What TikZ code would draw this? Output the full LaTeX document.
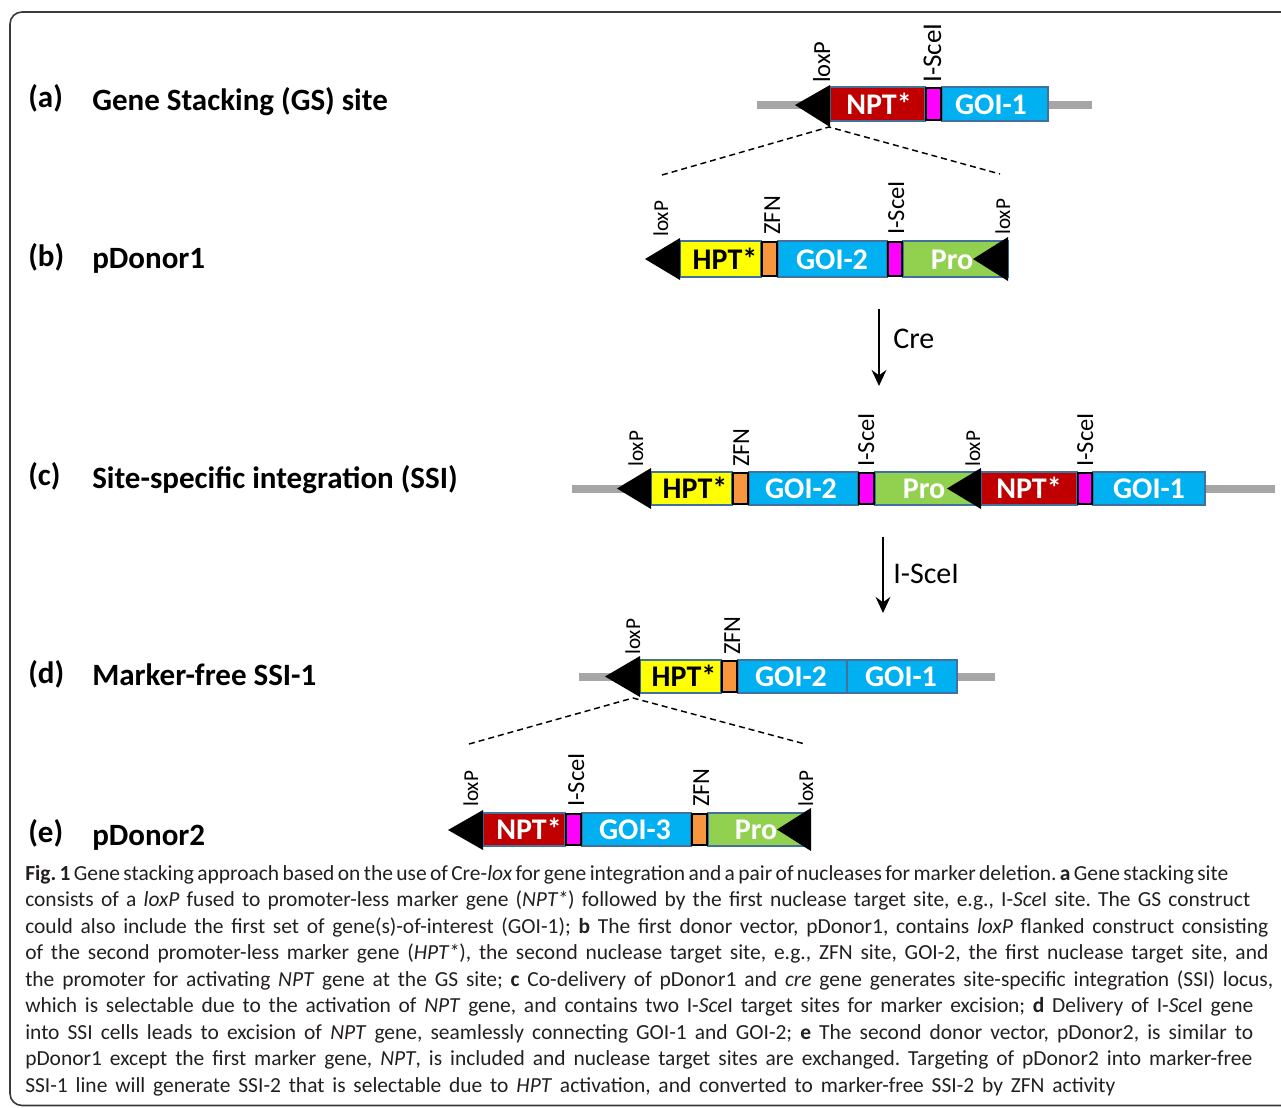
\documentclass[tikz,border=0pt]{standalone}
\usepackage{fontspec}
\setmainfont{Carlito}
\usetikzlibrary{arrows.meta}
\frenchspacing
\definecolor{nptred}{HTML}{C00000}
\definecolor{hptyel}{HTML}{FFFF00}
\definecolor{goiblue}{HTML}{00B0F0}
\definecolor{progreen}{HTML}{92D050}
\definecolor{zfnorange}{HTML}{F7963C}
\definecolor{sceimag}{HTML}{FF00FF}
\definecolor{barline}{HTML}{41719C}
\definecolor{dnagray}{HTML}{A6A6A6}
\definecolor{capgray}{HTML}{231F20}
\definecolor{framegray}{HTML}{3A3A3A}
\begin{document}
\begin{tikzpicture}[x=0.75pt,y=-0.75pt,
  seg/.style={draw=barline, line width=1.5pt},
  sitebox/.style={draw=black, line width=2.2pt},
  gene/.style={font=\fontsize{22.5}{22.5}\selectfont\bfseries, text=white, inner sep=0, anchor=base},
  genedark/.style={gene, text=black},
  lbl/.style={rotate=90, anchor=base west, inner sep=0, font=\fontsize{18.4}{18.4}\selectfont},
  lblbig/.style={lbl, font=\fontsize{20.3}{20.3}\selectfont},
  lblsm/.style={lbl, font=\fontsize{15.9}{15.9}\selectfont},
  loxtri/.style={fill=black},
  dna/.style={draw=dnagray, line width=6pt},
  dashln/.style={dash pattern=on 4.5pt off 3pt, line width=1.1pt},
  flow/.style={line width=2pt, -{Stealth[length=12pt,width=11pt,inset=4pt]}},
  flowlbl/.style={font=\fontsize{22.5}{22.5}\selectfont, anchor=base west, inner sep=0},
  paneltag/.style={font=\fontsize{23.25}{23.25}\selectfont\bfseries, anchor=base west, inner sep=0},
  captext/.style={font=\fontsize{16.1}{16.1}\selectfont, anchor=base west, inner sep=0, text=capgray}
]
\useasboundingbox (0,0) rectangle (1281,1107);
% frame
\draw[line width=1.2pt, draw=framegray, rounded corners=9pt] (1300,1105.5) -- (10,1105.5) -- (10,12) -- (1300,12);

% ---------------- panel labels ----------------
\node[paneltag] (ta) at (28,107) {(a)};
\node[paneltag] (na) at (92,110) {Gene Stacking (GS) site};
\node[paneltag] (tb) at (28,266) {(b)};
\node[paneltag] (nb) at (92,268) {pDonor1};
\node[paneltag] (tc) at (28,485) {(c)};
\node[paneltag] (nc) at (92,488) {Site-specific integration (SSI)};
\node[paneltag] (td) at (28,683) {(d)};
\node[paneltag] (nd) at (92,685) {Marker-free SSI-1};
\node[paneltag] (te) at (28,842) {(e)};
\node[paneltag] (ne) at (92,845) {pDonor2};

% ---------------- (a) ----------------
\draw[dna] (757,105) -- (1092,105);
\filldraw[seg, fill=nptred] (830,87) rectangle (925,121);
\filldraw[seg, fill=goiblue] (942,87) rectangle (1048,121);
\filldraw[sitebox, fill=sceimag] (926,88) rectangle (941,120);
\node[gene] (a-npt) at (879,114) {NPT*};
\node[gene] (a-goi1) at (991,114) {GOI-1};
\fill[loxtri] (795,105) -- (830,85) -- (830,127) -- cycle;
\coordinate (a-lox) at (829,127);
\node[lbl] (a-loxl) at (830,83) {loxP};
\node[lblbig] (a-scel) at (941,83) {I-SceI};

% dashed zoom lines (a)->(b)
\coordinate (b-left) at (662,175);
\coordinate (b-right) at (1000,174);
\draw[dashln] (b-left) -- (a-lox) -- (b-right);

% ---------------- (b) ----------------
\filldraw[seg, fill=hptyel] (680,241) rectangle (761,277);
\filldraw[seg, fill=goiblue] (778,241) rectangle (887,277);
\filldraw[seg, fill=progreen] (903,241) rectangle (1008,277);
\filldraw[sitebox, fill=zfnorange] (762,242) rectangle (777,276);
\filldraw[sitebox, fill=sceimag] (888,242) rectangle (902,276);
\node[genedark] (b-hpt) at (725,269) {HPT*};
\node[gene] (b-goi2) at (832,269) {GOI-2};
\node[gene] (b-pro) at (952,269) {Pro};
\fill[loxtri] (645,259) -- (680,238) -- (680,280) -- cycle;
\fill[loxtri] (973,259) -- (1008,237) -- (1008,281) -- cycle;
\node[lblsm] (b-lox1) at (668,237) {loxP};
\node[lbl] (b-zfn) at (780,235) {ZFN};
\node[lbl] (b-scel) at (904,235) {I-SceI};
\node[lblsm] (b-lox2) at (1010,235) {loxP};

% Cre arrow
\coordinate (cre-s) at (879,309);
\coordinate (cre-e) at (879,386);
\draw[flow] (cre-s) -- (cre-e);
\node[flowlbl] (cre) at (893,348) {Cre};

% ---------------- (c) ----------------
\draw[dna] (572,488.5) -- (1275,488.5);
\filldraw[seg, fill=hptyel] (651,472) rectangle (732,505);
\filldraw[seg, fill=goiblue] (749,472) rectangle (858,505);
\filldraw[seg, fill=progreen] (875,472) rectangle (981,505);
\filldraw[seg, fill=nptred] (981,472) rectangle (1077,505);
\filldraw[seg, fill=goiblue] (1093,472) rectangle (1205,505);
\filldraw[sitebox, fill=zfnorange] (733,473) rectangle (748,504);
\filldraw[sitebox, fill=sceimag] (859,473) rectangle (874,504);
\filldraw[sitebox, fill=sceimag] (1078,473) rectangle (1092,504);
\node[genedark] (c-hpt) at (695,498.5) {HPT*};
\node[gene] (c-goi2) at (801,498.5) {GOI-2};
\node[gene] (c-pro) at (924,498.5) {Pro};
\node[gene] (c-npt) at (1029,498.5) {NPT*};
\node[gene] (c-goi1) at (1149,498.5) {GOI-1};
\fill[loxtri] (617,488.5) -- (651,468) -- (651,509) -- cycle;
\fill[loxtri] (947,488.5) -- (981,468) -- (981,509) -- cycle;
\node[lblsm] (c-lox1) at (643,467) {loxP};
\node[lbl] (c-zfn) at (749,467) {ZFN};
\node[lbl] (c-scel1) at (874,467) {I-SceI};
\node[lblsm] (c-lox2) at (980,467) {loxP};
\node[lbl] (c-scel2) at (1093,467) {I-SceI};

% I-SceI arrow
\coordinate (sce-s) at (883,537);
\coordinate (sce-e) at (883,613);
\draw[flow] (sce-s) -- (sce-e);
\node[flowlbl] (scearr) at (893,583) {I-SceI};

% ---------------- (d) ----------------
\draw[dna] (579,676.5) -- (995,676.5);
\filldraw[seg, fill=hptyel] (640,660) rectangle (721,693);
\filldraw[seg, fill=goiblue] (738,660) rectangle (847,693);
\filldraw[seg, fill=goiblue] (847,660) rectangle (957,693);
\filldraw[sitebox, fill=zfnorange] (722,661) rectangle (737,692);
\node[genedark] (d-hpt) at (684,686.5) {HPT*};
\node[gene] (d-goi2) at (791,686.5) {GOI-2};
\node[gene] (d-goi1) at (901,686.5) {GOI-1};
\fill[loxtri] (605,676.5) -- (640,656) -- (640,697) -- cycle;
\coordinate (d-lox) at (633,698);
\node[lblsm] (d-lox1) at (640,655) {loxP};
\node[lbl] (d-zfn) at (740,655) {ZFN};

% dashed zoom lines (d)->(e)
\coordinate (e-left) at (469,744);
\coordinate (e-right) at (805,744);
\draw[dashln] (e-left) -- (d-lox) -- (e-right);

% ---------------- (e) ----------------
\filldraw[seg, fill=nptred] (483,813) rectangle (565,846);
\filldraw[seg, fill=goiblue] (582,813) rectangle (691,846);
\filldraw[seg, fill=progreen] (708,813) rectangle (810,846);
\filldraw[sitebox, fill=sceimag] (566,814) rectangle (581,845);
\filldraw[sitebox, fill=zfnorange] (692,814) rectangle (707,845);
\node[gene] (e-npt) at (529,839.5) {NPT*};
\node[gene] (e-goi3) at (635,839.5) {GOI-3};
\node[gene] (e-pro) at (756,839.5) {Pro};
\fill[loxtri] (448,830) -- (483,810) -- (483,850) -- cycle;
\fill[loxtri] (777,829.5) -- (811,808) -- (811,851) -- cycle;
\node[lblsm] (e-lox1) at (478,807) {loxP};
\node[lbl] (e-scel) at (584,807) {I-SceI};
\node[lbl] (e-zfn) at (709,807) {ZFN};
\node[lblsm] (e-lox2) at (813,807) {loxP};

% ---------------- caption ----------------
\node[captext] (cap1) at (25,880) {\makebox[902.25pt][s]{\textbf{Fig. 1} Gene stacking approach based on the use of Cre-\textit{lox} for gene integration and a pair of nucleases for marker deletion. \textbf{a} Gene stacking site}};
\node[captext] (cap2) at (25,906.5) {\makebox[918.75pt][s]{consists of a \textit{loxP} fused to promoter-less marker gene (\textit{NPT*}) followed by the first nuclease target site, e.g., I-\textit{Sce}I site. The GS construct}};
\node[captext] (cap3) at (25,933) {\makebox[932.25pt][s]{could also include the first set of gene(s)-of-interest (GOI-1); \textbf{b} The first donor vector, pDonor1, contains \textit{loxP} flanked construct consisting}};
\node[captext] (cap4) at (25,959.5) {\makebox[932.25pt][s]{of the second promoter-less marker gene (\textit{HPT*}), the second nuclease target site, e.g., ZFN site, GOI-2, the first nuclease target site, and}};
\node[captext] (cap5) at (25,986) {\makebox[936pt][s]{the promoter for activating \textit{NPT} gene at the GS site; \textbf{c} Co-delivery of pDonor1 and \textit{cre} gene generates site-specific integration (SSI) locus,}};
\node[captext] (cap6) at (25,1012.5) {\makebox[921pt][s]{which is selectable due to the activation of \textit{NPT} gene, and contains two I-\textit{Sce}I target sites for marker excision; \textbf{d} Delivery of I-\textit{Sce}I gene}};
\node[captext] (cap7) at (25,1039) {\makebox[921pt][s]{into SSI cells leads to excision of \textit{NPT} gene, seamlessly connecting GOI-1 and GOI-2; \textbf{e} The second donor vector, pDonor2, is similar to}};
\node[captext] (cap8) at (25,1065.5) {\makebox[920.25pt][s]{pDonor1 except the first marker gene, \textit{NPT}, is included and nuclease target sites are exchanged. Targeting of pDonor2 into marker-free}};
\node[captext] (cap9) at (25,1092) {\makebox[817.5pt][s]{SSI-1 line will generate SSI-2 that is selectable due to \textit{HPT} activation, and converted to marker-free SSI-2 by ZFN activity}};
\end{tikzpicture}
\end{document}
